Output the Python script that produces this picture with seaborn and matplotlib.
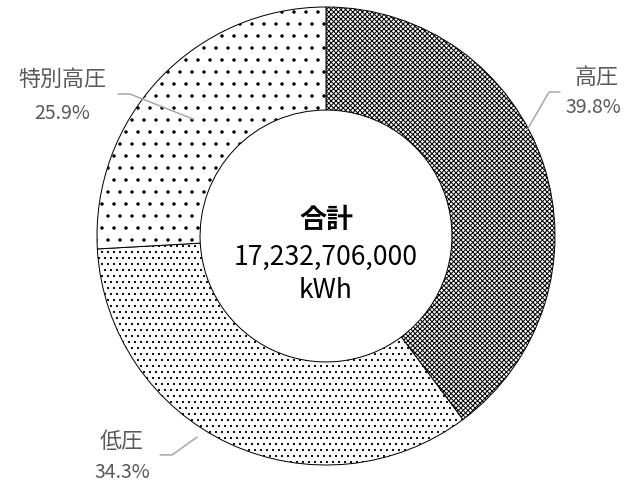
import seaborn as sns
import matplotlib.pyplot as plt

# 電力量の内訳
categories = ['高圧', '低圧', '特別高圧']
shares = [39.8, 34.3, 25.9]
total_kwh = 17232706000
hatches = ['xxxxx', '..', '.']

sns.set_theme(style='white')
plt.rcParams['font.family'] = ['Noto Sans CJK JP', 'DejaVu Sans']
plt.rcParams['hatch.linewidth'] = 1.0

DPI = 72
fig = plt.figure(figsize=(630 / DPI, 483 / DPI), dpi=DPI)
fig.patch.set_facecolor('white')

# pie centre at (326, 236) px, radius 229 px
ax = fig.add_axes([(326 - 229) / 630, (483 - 236 - 229) / 483, 458 / 630, 458 / 483])

wedges, _ = ax.pie(shares, startangle=90, counterclock=False, radius=1,
                   colors=['white'] * 3,
                   wedgeprops=dict(width=0.45, edgecolor='black', linewidth=1.0))
for w, h in zip(wedges, hatches):
    w.set_hatch(h)
ax.set_xlim(-1, 1)
ax.set_ylim(-1, 1)
ax.axis('off')

grey = '#595959'
line_c = '#a6a6a6'

# label positions / leader lines (layout only)
layout = {
    '高圧': dict(name=(1.183, 0.690), pct=(1.166, 0.559),
               line=[(0.878, 0.463), (0.974, 0.629), (1.022, 0.629)]),
    '低圧': dict(name=(-0.891, -0.900), pct=(-0.891, -1.031),
               line=[(-0.725, -0.956), (-0.672, -0.956), (-0.563, -0.878)]),
    '特別高圧': dict(name=(-1.153, 0.681), pct=(-1.153, 0.537),
                 line=[(-0.908, 0.620), (-0.856, 0.620), (-0.581, 0.511)]),
}

for cat, val in zip(categories, shares):
    lay = layout[cat]
    xs, ys = zip(*lay['line'])
    ax.plot(xs, ys, color=line_c, lw=1.5, clip_on=False)
    ax.text(*lay['name'], cat, ha='center', va='center', fontsize=22, color=grey)
    ax.text(*lay['pct'], f'{val:.1f}%', ha='center', va='center', fontsize=19.5, color=grey)

ax.text(0, 0.07, '合計', ha='center', va='center', fontsize=27, fontweight='bold', color='black')
ax.text(0, -0.092, f'{total_kwh:,}', ha='center', va='center', fontsize=26.5, color='black')
ax.text(0, -0.236, 'kWh', ha='center', va='center', fontsize=26.5, color='black')

fig.savefig('out.png', dpi=DPI)
